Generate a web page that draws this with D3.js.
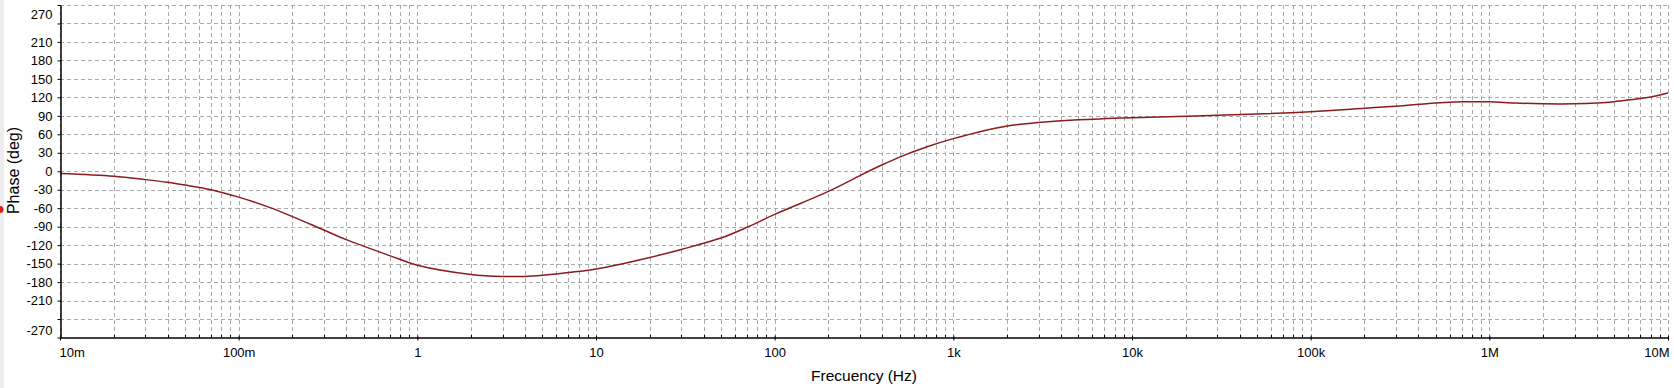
<!DOCTYPE html>
<html>
<head>
<meta charset="utf-8">
<script src="https://cdn.jsdelivr.net/npm/d3@7"></script>
<style>
  html, body { margin: 0; padding: 0; background: #ffffff; }
  svg { display: block; }
  text { font-family: "Liberation Sans", Arial, sans-serif; fill: #000; }
</style>
</head>
<body>
<svg id="chart" width="1674" height="388"></svg>
<script>
// ---- data ----
const freq = [0.01, 0.02, 0.03, 0.04, 0.05, 0.07, 0.1, 0.15, 0.2, 0.3, 0.4, 0.5, 0.7,
  1, 2, 3, 4, 5, 7, 10, 20, 30, 50, 70, 100, 200, 300, 400, 500, 700,
  1000, 2000, 3000, 5000, 10000, 20000, 30000, 50000, 100000, 200000, 300000,
  500000, 700000, 1000000, 1400000, 2000000, 3000000, 4000000, 5000000,
  6000000, 8000000, 10000000];
const phase = [-3.8, -8.2, -13.6, -18, -22.4, -30, -42, -59, -73.6, -95.5, -111, -121.6, -137,
  -152.5, -167.5, -170.8, -170.8, -169, -164.5, -158.7, -140, -127, -108.5, -91, -70, -32.7, -7, 10.5, 23, 39,
  53, 73.6, 79, 83.5, 87, 89.4, 91, 92.8, 96.7, 102.3, 105.7,
  111, 112.8, 112.8, 110.8, 109.6, 109.6, 111, 113,
  115.6, 120.5, 127];

const xTickValues = [0.01, 0.1, 1, 10, 100, 1000, 10000, 100000, 1000000, 10000000];
const xTickLabels = ["10m", "100m", "1", "10", "100", "1k", "10k", "100k", "1M", "10M"];
const yTickValues = [-270, -240, -210, -180, -150, -120, -90, -60, -30, 0, 30, 60, 90, 120, 150, 180, 210, 240, 270];
const yTickLabels = ["-270", "", "-210", "-180", "-150", "-120", "-90", "-60", "-30", "0", "30", "60", "90", "120", "150", "180", "210", "", "270"];
const xTitle = "Frecuency (Hz)";
const yTitle = "Phase (deg)";

// ---- layout ----
const svg = d3.select("#chart");
const mLeft = 60, mRight = 1668, mTop = 5, mBottom = 337.5;

const x = d3.scaleLog().domain([0.01, 1e7]).range([mLeft, mRight]);
const y = d3.scaleLinear().domain([-270, 270]).range([mBottom, mTop]);

// left grey strip
svg.append("rect").attr("x", 0).attr("y", 0).attr("width", 4).attr("height", 388).attr("fill", "#ededed");

// minor positions for log grid
const minor = [];
xTickValues.forEach((d, i) => {
  if (i < xTickValues.length - 1) for (let k = 1; k <= 9; k++) minor.push(d * k);
  else minor.push(d);
});

const grid = svg.append("g").attr("stroke", "#a9a9a9").attr("stroke-width", 1).attr("stroke-dasharray", "4,3");
grid.selectAll("line.v").data(minor).join("line").attr("class", "v")
  .attr("x1", d => Math.round(x(d)) + 0.5).attr("x2", d => Math.round(x(d)) + 0.5)
  .attr("y1", mTop).attr("y2", mBottom);
grid.selectAll("line.h").data(yTickValues.filter(v => v !== -270)).join("line").attr("class", "h")
  .attr("y1", d => Math.round(y(d)) + 0.5).attr("y2", d => Math.round(y(d)) + 0.5)
  .attr("x1", mLeft).attr("x2", mRight);

// curve
const line = d3.line().x((d, i) => x(freq[i])).y((d, i) => y(phase[i])).curve(d3.curveCatmullRom.alpha(0.5));
svg.append("path").datum(phase).attr("d", line)
  .attr("fill", "none").attr("stroke", "#8c1c1c").attr("stroke-width", 1.5);

// y axis
const yAxis = d3.axisLeft(y).tickValues(yTickValues)
  .tickFormat((d, i) => yTickLabels[i]).tickSizeInner(3).tickSizeOuter(0).tickPadding(5);
const gy = svg.append("g").attr("transform", `translate(${mLeft + 0.5},0)`).call(yAxis);
gy.selectAll("text").style("font-size", "13px").style("font-family", "'Liberation Sans', Arial, sans-serif");
gy.selectAll(".tick").filter(d => d === 270).select("text").attr("dy", "1.05em");
gy.selectAll(".tick").filter(d => d === -270).select("text").attr("dy", "-0.2em");
gy.select(".domain").attr("stroke", "#000").attr("stroke-width", 1.5);
gy.selectAll(".tick line").attr("stroke", "#000");

// x axis
const xAxis = d3.axisBottom(x).tickValues(xTickValues)
  .tickFormat((d, i) => xTickLabels[i]).tickSizeInner(3).tickSizeOuter(0).tickPadding(7.5);
const gx = svg.append("g").attr("transform", `translate(0,${mBottom})`).call(xAxis);
gx.selectAll("text").style("font-size", "13px").style("font-family", "'Liberation Sans', Arial, sans-serif");
gx.selectAll(".tick").filter(d => d === 0.01).select("text").attr("text-anchor", "start").attr("x", -1);
gx.selectAll(".tick").filter(d => d === 1e7).select("text").attr("text-anchor", "end").attr("x", 1);
gx.selectAll(".tick line").attr("y1", -2).attr("stroke", "#000");
gx.select(".domain").attr("stroke", "#000").attr("stroke-width", 1.3);
// minor inward ticks
gx.selectAll("line.minor").data(minor.filter(d => !xTickValues.includes(d))).join("line")
  .attr("class", "minor")
  .attr("x1", d => Math.round(x(d)) + 0.5).attr("x2", d => Math.round(x(d)) + 0.5)
  .attr("y1", 0).attr("y2", -2.5).attr("stroke", "#000");

// titles
svg.append("text").attr("x", (mLeft + mRight) / 2).attr("y", 380.5)
  .attr("text-anchor", "middle").style("font-size", "15.5px").text(xTitle);
svg.append("text").attr("transform", "translate(18.5,170.5) rotate(-90)")
  .attr("text-anchor", "middle").style("font-size", "16px").text(yTitle);

// red marker at left edge
svg.append("circle").attr("cx", 0).attr("cy", 209.5).attr("r", 3.5).attr("fill", "#d42020");
</script>
</body>
</html>
